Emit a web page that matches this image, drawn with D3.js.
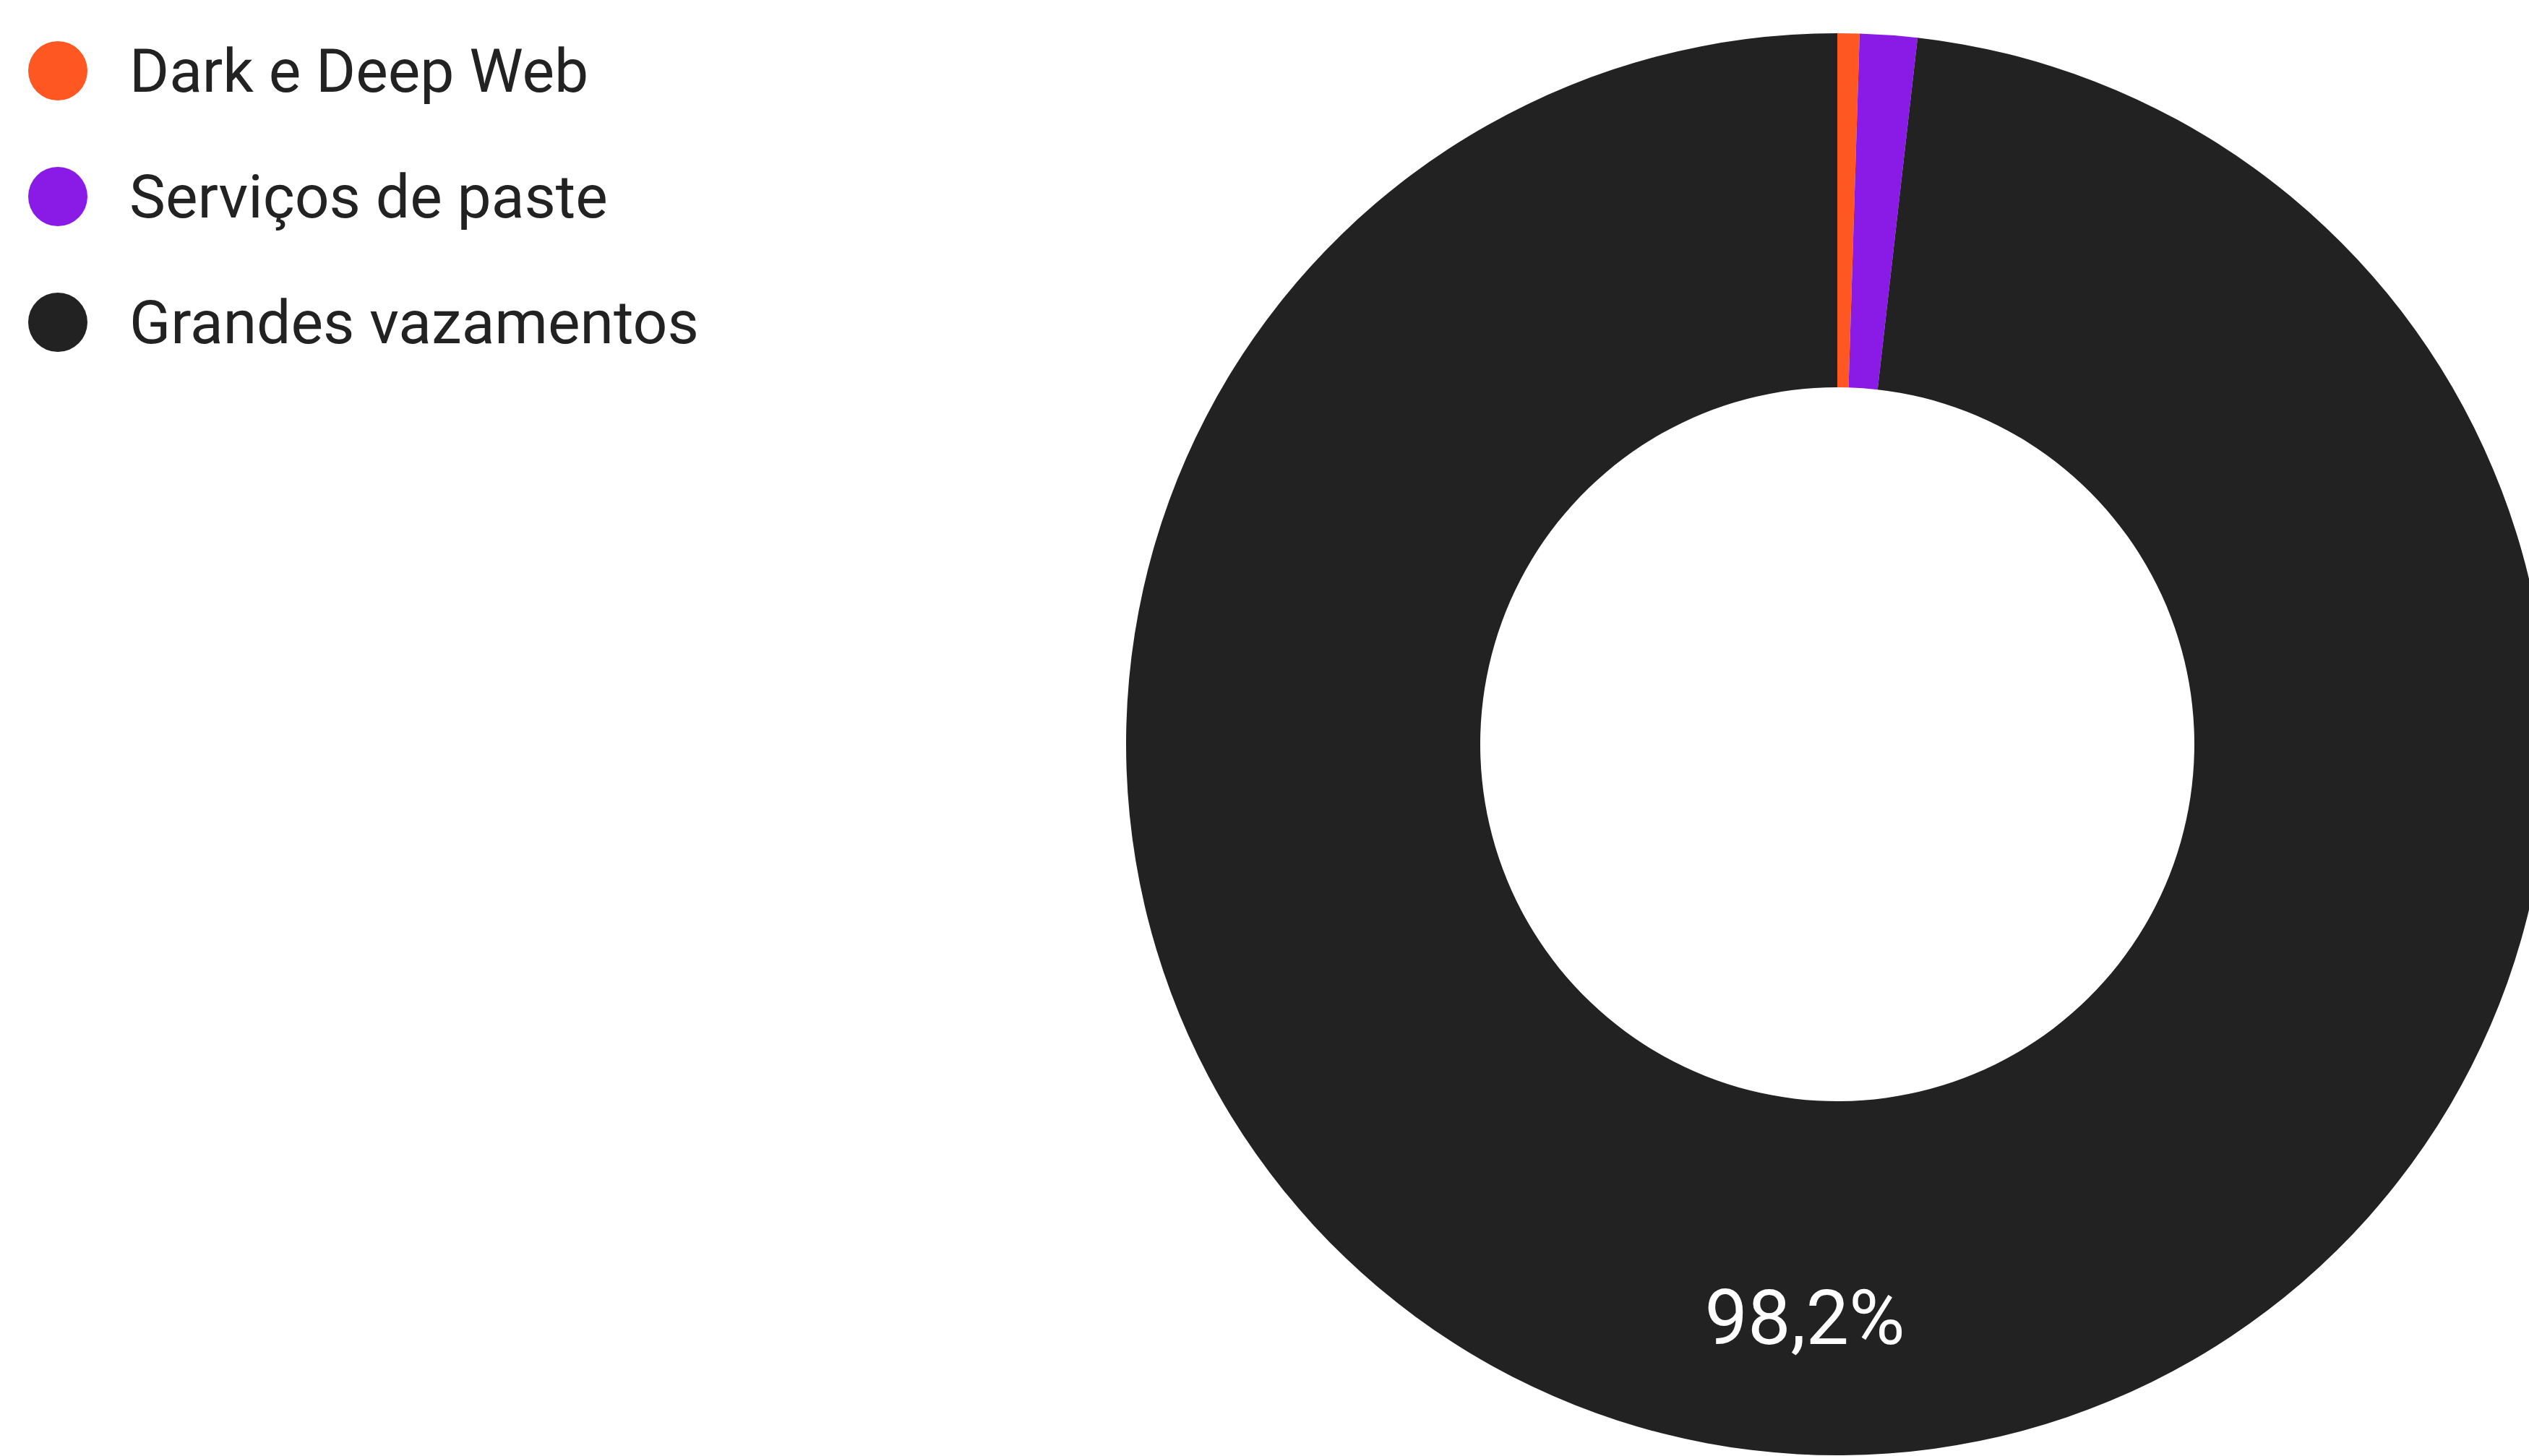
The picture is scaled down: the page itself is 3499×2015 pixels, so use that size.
<!DOCTYPE html>
<html>
<head>
<meta charset="utf-8">
<script src="https://cdn.jsdelivr.net/npm/d3@7"></script>
<style>
  html, body { margin: 0; padding: 0; background: #ffffff; overflow: hidden; }
  svg { display: block; }
</style>
</head>
<body>
<svg id="chart" width="3499" height="2015"></svg>
<script>
const categories = ["Dark e Deep Web", "Serviços de paste", "Grandes vazamentos"];
const values = [0.5, 1.3, 98.2];
const colors = ["#ff5722", "#8a1ae6", "#222222"];
const sliceLabels = ["", "", "98,2%"];

const W = 3499, H = 2015;
const cx = 2542, cy = 1030;
const rOuter = 984, rInner = 494;

const svg = d3.select("#chart");

const data = categories.map((c, i) => ({ name: c, value: values[i], color: colors[i], label: sliceLabels[i] }));

const pie = d3.pie().sort(null).value(d => d.value);
const arc = d3.arc().innerRadius(rInner).outerRadius(rOuter);
const arcs = pie(data);

const g = svg.append("g").attr("transform", `translate(${cx},${cy})`);
g.selectAll("path.slice")
  .data(arcs)
  .enter().append("path")
  .attr("class", "slice")
  .attr("d", arc)
  .attr("fill", d => d.data.color);

const labelR = rInner + 0.615 * (rOuter - rInner);
const labelArc = d3.arc().innerRadius(labelR).outerRadius(labelR);
g.selectAll("text.slice-label")
  .data(arcs.filter(d => d.data.label))
  .enter().append("text")
  .attr("class", "slice-label")
  .attr("transform", d => `translate(${labelArc.centroid(d)})`)
  .attr("text-anchor", "middle")
  .attr("dominant-baseline", "central")
  .attr("font-family", "Roboto, 'Noto Sans', sans-serif")
  .attr("font-size", 106)
  .attr("fill", "#ffffff")
  .text(d => d.data.label);

// Legend
const legendY = d3.scaleBand().domain(categories).range([11, 533]).paddingInner(0);
const legend = svg.append("g");
const items = legend.selectAll("g.item")
  .data(data)
  .enter().append("g")
  .attr("class", "item")
  .attr("transform", d => `translate(0,${legendY(d.name) + legendY.bandwidth() / 2})`);
items.append("circle")
  .attr("cx", 80)
  .attr("cy", 0)
  .attr("r", 41)
  .attr("fill", d => d.color);
items.append("text")
  .attr("x", 179)
  .attr("y", 0)
  .attr("dominant-baseline", "central")
  .attr("font-family", "Roboto, 'Noto Sans', sans-serif")
  .attr("font-size", 84)
  .attr("fill", "#222222")
  .text(d => d.name);
</script>
</body>
</html>
